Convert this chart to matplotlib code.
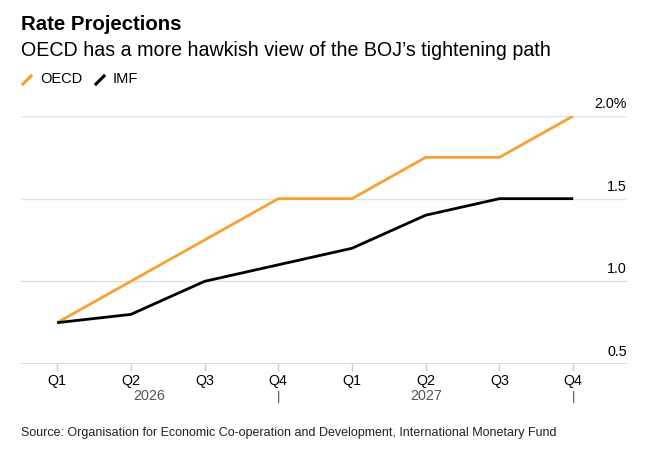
import numpy as np
import matplotlib.pyplot as plt
from matplotlib.lines import Line2D
from matplotlib import transforms

plt.rcParams['font.family'] = ['Liberation Sans', 'DejaVu Sans']

quarters = ['Q1', 'Q2', 'Q3', 'Q4', 'Q1', 'Q2', 'Q3', 'Q4']
years = ['2026', '2027']
oecd = [0.75, 1.0, 1.25, 1.5, 1.5, 1.75, 1.75, 2.0]
imf = [0.75, 0.8, 1.0, 1.1, 1.2, 1.4, 1.5, 1.5]
yticks = [0.5, 1.0, 1.5, 2.0]
ylabels = ['0.5', '1.0', '1.5', '2.0%']

orange = '#f7a131'
x = np.arange(len(quarters))

fig = plt.figure(figsize=(6.6, 4.58), dpi=100)
ax = fig.add_axes([21 / 660, 1 - 364 / 458, (627 - 21) / 660, (364 - 116) / 458])

# grid
for v in yticks[1:]:
    ax.axhline(v, color='#e1e1e1', lw=1.0, zorder=0)
ax.axhline(yticks[0], color='#d6d6d6', lw=2.0, zorder=0)

ax.plot(x, oecd, color=orange, lw=2.0, solid_capstyle='butt', zorder=3)
ax.plot(x, imf, color='black', lw=2.0, solid_capstyle='butt', zorder=3)

ax.set_xlim(-0.49, 7.73)
ax.set_ylim(0.5, 2.0)
for s in ax.spines.values():
    s.set_visible(False)
ax.set_yticks([])
ax.set_xticks(x)
ax.set_xticklabels(quarters, fontsize=10.3)
ax.tick_params(axis='x', length=5, width=1, color='#cccccc', pad=2.5)

trans = transforms.blended_transform_factory(ax.transAxes, ax.transData)
for v, lab in zip(yticks, ylabels):
    ax.text(1.0, v + 0.03, lab, transform=trans, ha='right', va='bottom', fontsize=10.3)

# year labels and separators
tb = transforms.blended_transform_factory(ax.transData, fig.transFigure)
bounds = [-0.49, 3, 7]
for i, yr in enumerate(years):
    ax.text((bounds[i] + bounds[i + 1]) / 2, 1 - 396 / 458, yr, transform=tb,
            ha='center', va='center', fontsize=10.3, color='#555555')
for b in bounds[1:]:
    ax.text(b, 1 - 397 / 458, '|', transform=tb, ha='center', va='center',
            fontsize=9.5, color='#555555')

# titles
fig.text(21 / 660, 1 - 24 / 458, 'Rate Projections', fontsize=14.7, fontweight='bold',
         va='center', ha='left')
fig.text(21 / 660, 1 - 50 / 458, 'OECD has a more hawkish view of the BOJ\u2019s tightening path',
         fontsize=14.1, va='center', ha='left')

# legend
legend_items = [('OECD', orange, 23), ('IMF', 'black', 96)]
for name, col, px in legend_items:
    fig.add_artist(Line2D([px / 660, (px + 8) / 660], [1 - 84 / 458, 1 - 76 / 458],
                          color=col, lw=2.2, transform=fig.transFigure))
    fig.text((px + 17) / 660, 1 - 79 / 458, name, fontsize=10.5, va='center', ha='left')

fig.text(21 / 660, 1 - 433 / 458,
         'Source: Organisation for Economic Co-operation and Development, International Monetary Fund',
         fontsize=9, va='center', ha='left', color='#222222')

fig.savefig('out.png', dpi=100)
